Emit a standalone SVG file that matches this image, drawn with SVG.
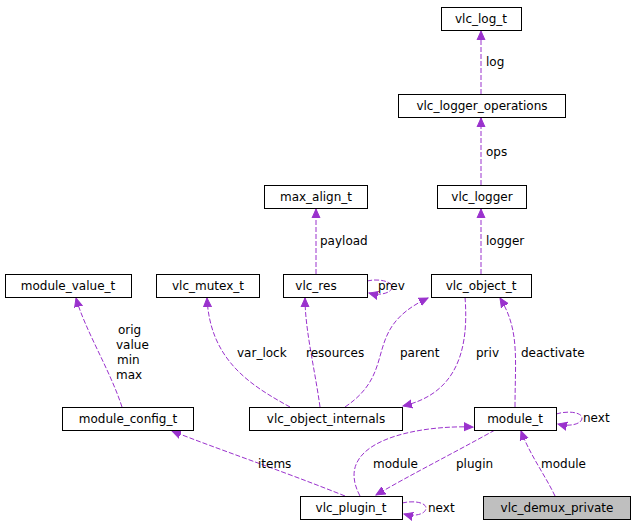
<svg xmlns="http://www.w3.org/2000/svg" width="635" height="528" viewBox="0 0 635 528">
<style>
.n rect{fill:#fff;stroke:#000;stroke-width:1}
text{font-family:"DejaVu Sans",sans-serif;font-size:12px;fill:#000}
.n text{text-anchor:middle}
.e path{fill:none;stroke:#9a32cd;stroke-dasharray:5,2}
</style>
<defs><marker id="a" markerWidth="10" markerHeight="10" refX="9" refY="5" orient="auto" markerUnits="userSpaceOnUse"><path d="M0,1 L9,5 L0,9 Z" fill="#9a32cd" stroke="#9a32cd"/></marker></defs>
<rect width="635" height="528" fill="#fff"/>
<g class="e">
<path d="M481,94 V31" marker-end="url(#a)"/>
<path d="M481,185 V118" marker-end="url(#a)"/>
<path d="M481,274 V209" marker-end="url(#a)"/>
<path d="M316,274 V209" marker-end="url(#a)"/>
<path d="M367,281 C380,278 392,282 392,287 C392,293 380,296 369,293" marker-end="url(#a)"/>
<path d="M122,407 C110,370 85,330 76,298" marker-end="url(#a)"/>
<path d="M290,407 C250,385 210,360 207,298" marker-end="url(#a)"/>
<path d="M320,407 C315,370 305,330 305,298" marker-end="url(#a)"/>
<path d="M345,407 C400,370 360,330 428,298" marker-end="url(#a)"/>
<path d="M465,297 C470,360 450,395 403,406" marker-end="url(#a)"/>
<path d="M515,407 C515,360 520,330 500,298" marker-end="url(#a)"/>
<path d="M556,414 C570,410 582,413 582,418 C582,424 570,427 558,424" marker-end="url(#a)"/>
<path d="M345,496 C280,470 220,450 172,431" marker-end="url(#a)"/>
<path d="M360,496 C330,440 420,425 473,427" marker-end="url(#a)"/>
<path d="M495,430 C450,455 410,475 376,495" marker-end="url(#a)"/>
<path d="M402,503 C415,500 426,503 426,508 C426,514 415,517 404,514" marker-end="url(#a)"/>
<path d="M555,496 C545,475 530,455 521,431" marker-end="url(#a)"/>
</g>
<g class="l">
<text x="486" y="66">log</text>
<text x="486" y="156">ops</text>
<text x="486" y="245">logger</text>
<text x="320" y="245">payload</text>
<text x="378" y="290">prev</text>
<text x="118" y="334">orig</text>
<text x="116" y="349">value</text>
<text x="117" y="364">min</text>
<text x="116" y="379">max</text>
<text x="237" y="357">var_lock</text>
<text x="306" y="357">resources</text>
<text x="400" y="357">parent</text>
<text x="476" y="357">priv</text>
<text x="521" y="357">deactivate</text>
<text x="583" y="422">next</text>
<text x="258" y="468">items</text>
<text x="373" y="468">module</text>
<text x="456" y="468">plugin</text>
<text x="428" y="512">next</text>
<text x="541" y="468">module</text>
</g>
<g class="n" id="vlc_log_t"><rect x="441.5" y="7.5" width="80" height="23"/><text x="481" y="23">vlc_log_t</text></g>
<g class="n" id="vlc_logger_operations"><rect x="398.5" y="94.5" width="167" height="23"/><text x="482" y="110">vlc_logger_operations</text></g>
<g class="n" id="vlc_logger"><rect x="437.5" y="185.5" width="89" height="23"/><text x="482" y="201">vlc_logger</text></g>
<g class="n" id="max_align_t"><rect x="264.5" y="185.5" width="103" height="23"/><text x="316" y="201">max_align_t</text></g>
<g class="n" id="module_value_t"><rect x="5.5" y="274.5" width="126" height="23"/><text x="68" y="290">module_value_t</text></g>
<g class="n" id="vlc_mutex_t"><rect x="156.5" y="274.5" width="103" height="23"/><text x="208" y="290">vlc_mutex_t</text></g>
<g class="n" id="vlc_res"><rect x="283.5" y="274.5" width="84" height="23"/><text x="316" y="290">vlc_res</text></g>
<g class="n" id="vlc_object_t"><rect x="431.5" y="274.5" width="100" height="23"/><text x="481" y="290">vlc_object_t</text></g>
<g class="n" id="module_config_t"><rect x="62.5" y="407.5" width="131" height="23"/><text x="128" y="423">module_config_t</text></g>
<g class="n" id="vlc_object_internals"><rect x="249.5" y="407.5" width="153" height="23"/><text x="326" y="423">vlc_object_internals</text></g>
<g class="n" id="module_t"><rect x="474.5" y="407.5" width="82" height="23"/><text x="515" y="423">module_t</text></g>
<g class="n" id="vlc_plugin_t"><rect x="300.5" y="496.5" width="102" height="23"/><text x="351" y="512">vlc_plugin_t</text></g>
<g class="n" id="vlc_demux_private"><rect x="483.5" y="496.5" width="147" height="23" style="fill:#bfbfbf"/><text x="557" y="512">vlc_demux_private</text></g>
</svg>
